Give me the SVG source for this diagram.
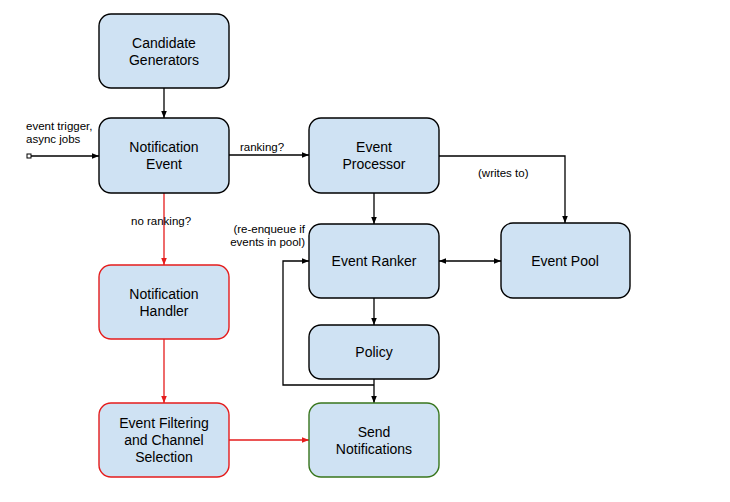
<svg xmlns="http://www.w3.org/2000/svg" width="730" height="502" viewBox="0 0 730 502">
<style>
.n rect{fill:#cfe2f3;stroke:#000;stroke-width:1.4}
.n.r rect{stroke:#e51c1c}
.n.g rect{stroke:#38761d}
.n text{font-family:"Liberation Sans",Arial,sans-serif;font-size:14px;fill:#000;text-anchor:middle}
.c path{fill:none;stroke:#000;stroke-width:1.3}
.c path.red{stroke:#e51c1c}
.l{font-family:"Liberation Sans",Arial,sans-serif;font-size:11.5px;fill:#000}
</style>
<defs>
<marker id="a" viewBox="0 0 10 10" refX="10" refY="5" markerWidth="7" markerHeight="7" orient="auto-start-reverse" markerUnits="userSpaceOnUse"><path d="M0,1 L10,5 L0,9 z" fill="#000"/></marker>
<marker id="ar" viewBox="0 0 10 10" refX="10" refY="5" markerWidth="7" markerHeight="7" orient="auto" markerUnits="userSpaceOnUse"><path d="M0,1 L10,5 L0,9 z" fill="#e51c1c"/></marker>
</defs>
<rect width="730" height="502" fill="#fff"/>
<g class="c">
<path d="M164,88 V118" marker-end="url(#a)"/>
<path d="M31,156 H99" marker-end="url(#a)"/>
<rect x="27" y="154" width="4" height="4" fill="#fff" stroke="#000" stroke-width="1"/>
<path d="M229,155 H309" marker-end="url(#a)"/>
<path class="red" d="M164,193 V265" marker-end="url(#ar)"/>
<path class="red" d="M164,339 V403" marker-end="url(#ar)"/>
<path class="red" d="M229,440 H309" marker-end="url(#ar)"/>
<path d="M374,193 V224" marker-end="url(#a)"/>
<path d="M439,156 H565 V223" marker-end="url(#a)"/>
<path d="M439,261 H501" marker-start="url(#a)" marker-end="url(#a)"/>
<path d="M374,298 V325" marker-end="url(#a)"/>
<path d="M374,379 V403" marker-end="url(#a)"/>
<path d="M374,385 H283 V261 H309" marker-end="url(#a)"/>
</g>
<text class="l" x="26" y="130">event trigger,</text>
<text class="l" x="26" y="143">async jobs</text>
<text class="l" x="240" y="151">ranking?</text>
<text class="l" x="131" y="225">no ranking?</text>
<text class="l" x="478" y="177">(writes to)</text>
<text class="l" x="305" y="233" text-anchor="end">(re-enqueue if</text>
<text class="l" x="305" y="246" text-anchor="end">events in pool)</text>
<g id="candidate" class="n"><rect x="99" y="14" width="130" height="74" rx="12"/><text x="164" y="48">Candidate</text><text x="164" y="65">Generators</text></g>
<g id="notification-event" class="n"><rect x="99" y="118" width="130" height="75" rx="12"/><text x="164" y="152">Notification</text><text x="164" y="169">Event</text></g>
<g id="handler" class="n r"><rect x="99" y="265" width="130" height="74" rx="12"/><text x="164" y="299">Notification</text><text x="164" y="316">Handler</text></g>
<g id="filtering" class="n r"><rect x="99" y="403" width="130" height="74" rx="12"/><text x="164" y="428">Event Filtering</text><text x="164" y="445">and Channel</text><text x="164" y="462">Selection</text></g>
<g id="processor" class="n"><rect x="309" y="118" width="130" height="75" rx="12"/><text x="374" y="152">Event</text><text x="374" y="169">Processor</text></g>
<g id="ranker" class="n"><rect x="309" y="224" width="130" height="74" rx="12"/><text x="374" y="266">Event Ranker</text></g>
<g id="pool" class="n"><rect x="501" y="223" width="129" height="75" rx="12"/><text x="565" y="266">Event Pool</text></g>
<g id="policy" class="n"><rect x="309" y="325" width="130" height="54" rx="12"/><text x="374" y="357">Policy</text></g>
<g id="send" class="n g"><rect x="309" y="403" width="130" height="74" rx="12"/><text x="374" y="437">Send</text><text x="374" y="454">Notifications</text></g>
</svg>
